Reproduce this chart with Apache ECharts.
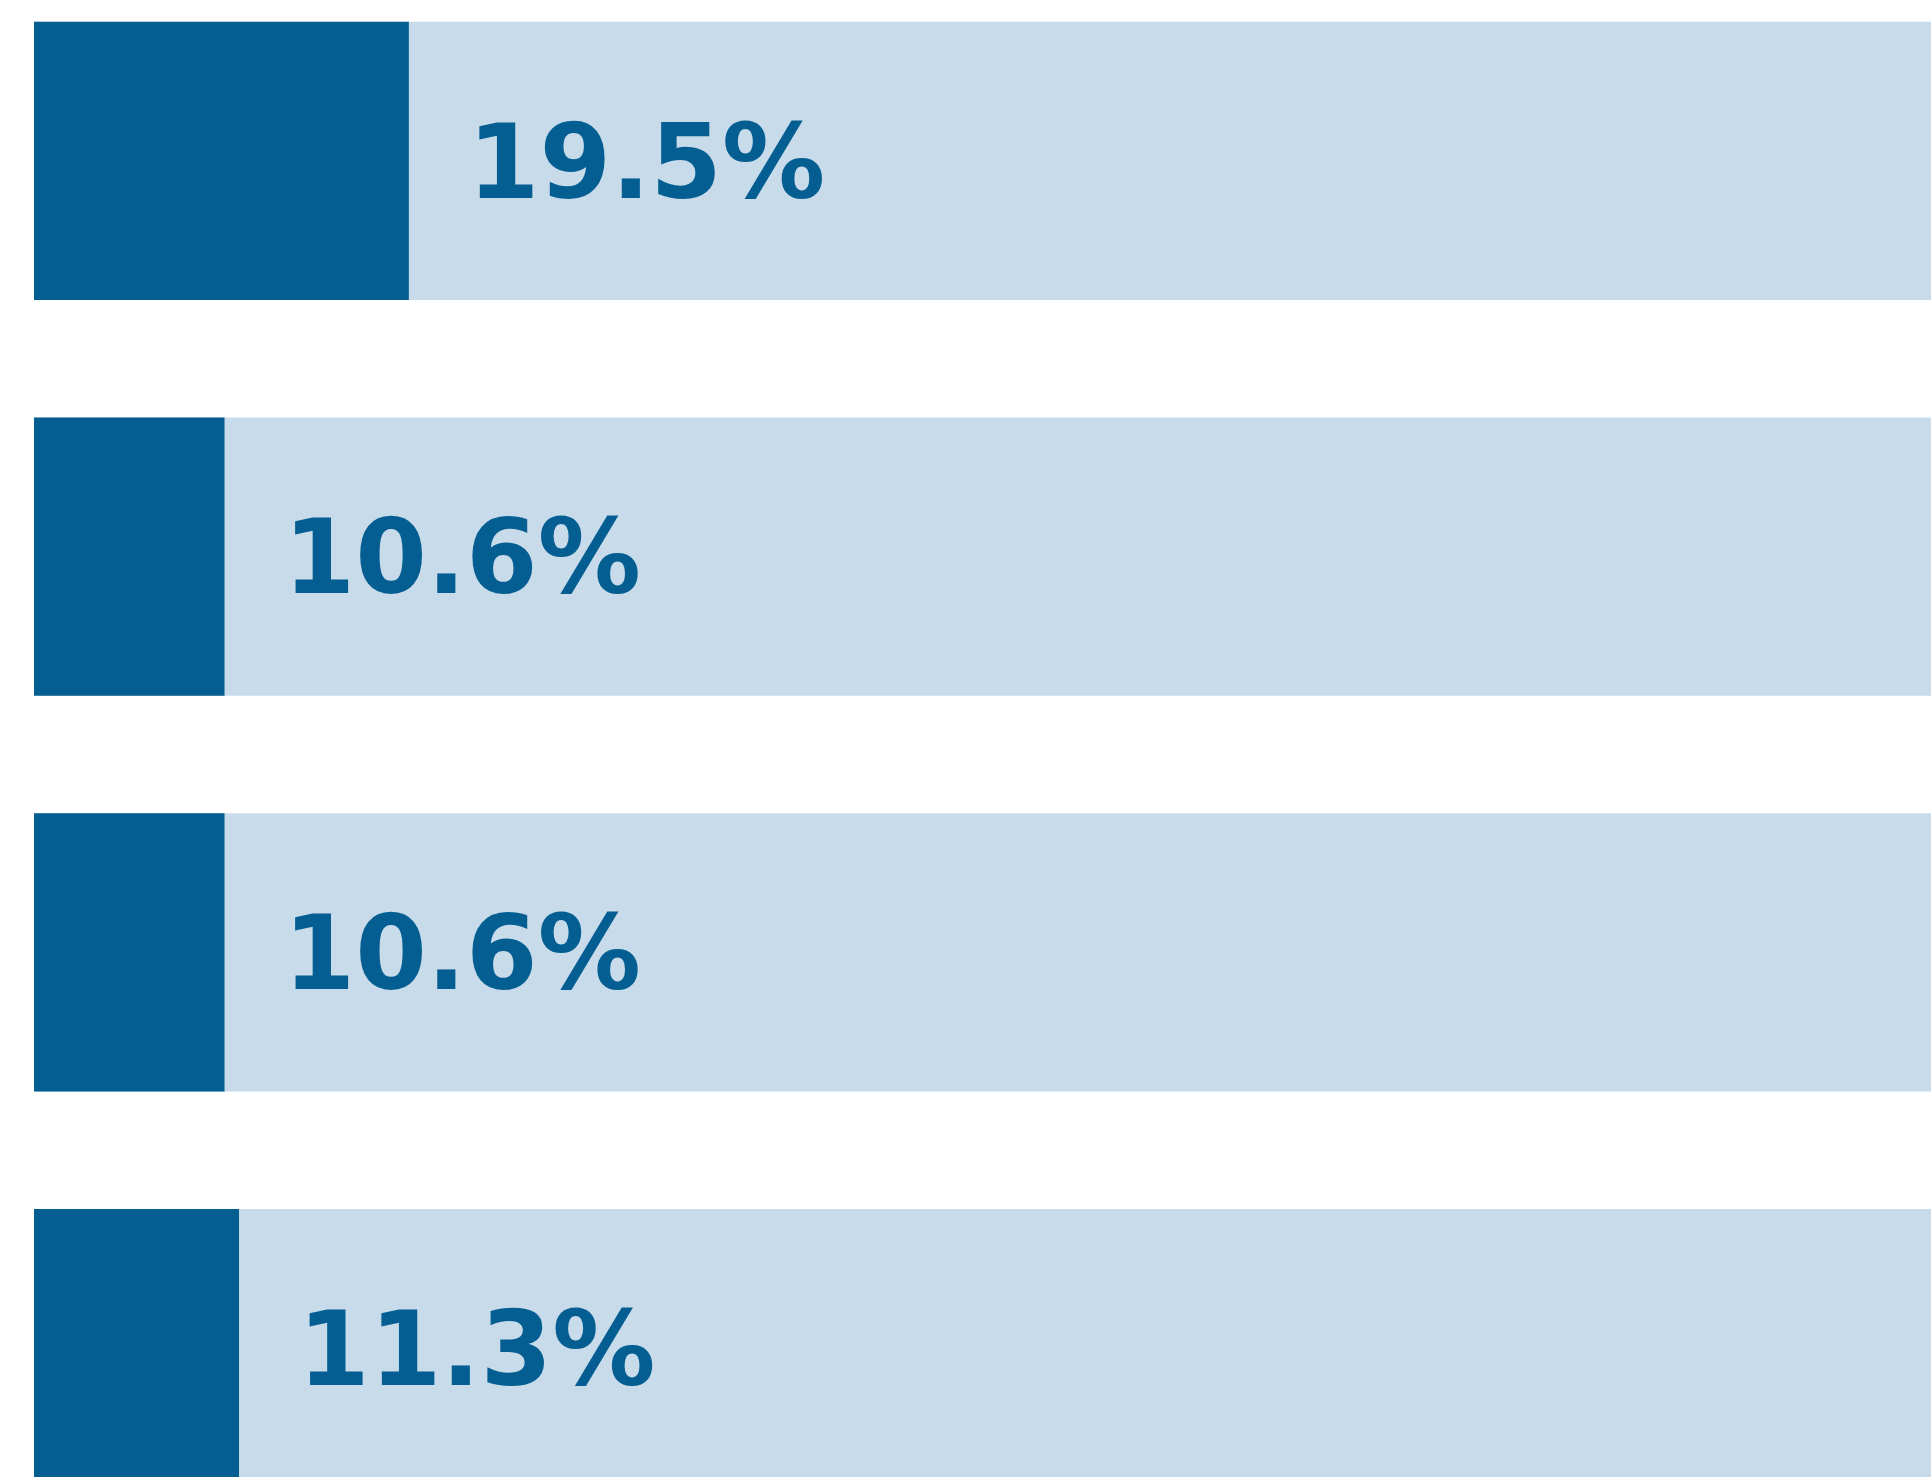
<!DOCTYPE html>
<html>
<head>
<meta charset="utf-8">
<script src="https://cdn.jsdelivr.net/npm/echarts@6/dist/echarts.min.js"></script>
<style>
  html, body { margin: 0; padding: 0; background: #fff; overflow: hidden; width: 1931px; height: 1477px; }
  #main { position: absolute; left: 0; top: -37px; width: 1931px; height: 1583px; }
</style>
</head>
<body>
<div id="main"></div>
<script>
// data
const categories = ["A", "B", "C", "D"];
const values = [19.5, 10.6, 10.6, 11.3];

const chart = echarts.init(document.getElementById("main"));

const option = {
  animation: false,
  grid: { left: 34, right: 0, top: 0, bottom: 0 },
  xAxis: {
    type: "value",
    min: 1.4,
    max: 93,
    show: false
  },
  yAxis: {
    type: "category",
    data: categories,
    inverse: true,
    show: false
  },
  series: [
    {
      type: "bar",
      data: values,
      barCategoryGap: "29.75%",
      itemStyle: { color: "#055e91" },
      showBackground: true,
      backgroundStyle: { color: "#c8dbeb" },
      label: {
        show: true,
        position: "right",
        distance: 59,
        offset: [0, 10],
        color: "#055e91",
        fontFamily: "DejaVu Sans",
        fontWeight: "bold",
        fontSize: 103,
        formatter: p => p.value.toFixed(1) + "%"
      }
    }
  ]
};

chart.setOption(option);
</script>
</body>
</html>
